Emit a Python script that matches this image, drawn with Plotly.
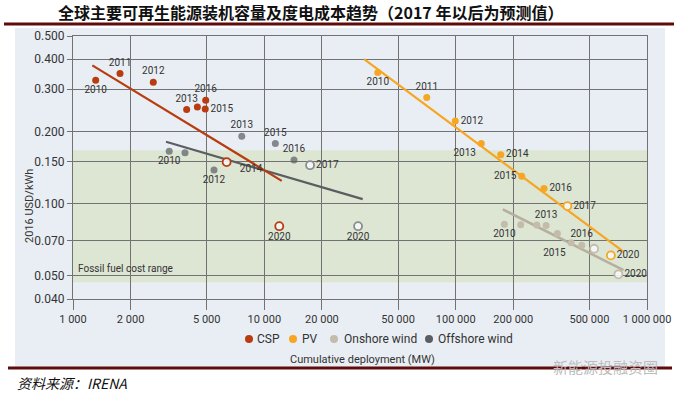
import math
import plotly.graph_objects as go

# ---------------- data ----------------
csp_x = [1314, 1761, 2628, 3927, 4467, 4910, 4940]
csp_y = [0.327, 0.349, 0.321, 0.247, 0.253, 0.248, 0.270]
csp_lbl = ["2010", "2011", "2012", "2013", "", "2015", "2016"]
csp_proj_x = [6353, 11970]
csp_proj_y = [0.149, 0.0805]
csp_proj_lbl = ["", "2020"]
csp_trend_x = [1262, 12330]
csp_trend_y = [0.377, 0.1244]

off_x = [3184, 3850, 5457, 7622, 8521, 11417, 14290]
off_y = [0.1655, 0.163, 0.138, 0.191, 0.146, 0.178, 0.152]
off_lbl = ["2010", "", "2012", "2013", "2014", "2015", "2016"]
off_proj_x = [17340, 30900]
off_proj_y = [0.1446, 0.0805]
off_proj_lbl = ["2017", "2020"]
off_trend_x = [3062, 32660]
off_trend_y = [0.181, 0.1044]

pv_x = [39170, 70630, 99540, 136100, 172000, 221600, 289700]
pv_y = [0.352, 0.277, 0.221, 0.178, 0.160, 0.130, 0.1157]
pv_lbl = ["2010", "2011", "2012", "2013", "2014", "2015", "2016"]
pv_proj_x = [383600, 647400]
pv_proj_y = [0.0976, 0.0608]
pv_proj_lbl = ["2017", "2020"]
pv_trend_x = [33200, 753000]
pv_trend_y = [0.400, 0.063]

on_x = [179800, 218800, 265500, 296900, 340100, 401000, 456000]
on_y = [0.0821, 0.0816, 0.0815, 0.0810, 0.0750, 0.0687, 0.0670]
on_lbl = ["2010", "", "", "2013", "", "2015", "2016"]
on_proj_x = [529000, 708800]
on_proj_y = [0.0648, 0.0507]
on_proj_lbl = ["", "2020"]
on_trend_x = [176300, 753000]
on_trend_y = [0.0946, 0.0528]

fossil_range = [0.047, 0.167]

x_ticks = [1000, 2000, 5000, 10000, 20000, 50000, 100000, 200000, 500000, 1000000]
x_ticktext = ["1 000", "2 000", "5 000", "10 000", "20 000", "50 000",
              "100 000", "200 000", "500 000", "1 000 000"]
y_ticks = [0.04, 0.05, 0.07, 0.1, 0.15, 0.2, 0.3, 0.4, 0.5]
y_ticktext = ["0.040", "0.050", "0.070", "0.100", "0.150", "0.200", "0.300", "0.400", "0.500"]

series_names = ["CSP", "PV", "Onshore wind", "Offshore wind"]

# ---------------- style ----------------
FONT = "Liberation Sans Narrow, Arial Narrow, Roboto, sans-serif"
TXT = "#333333"
C_CSP = "#b83c10"
C_PV = "#f6a623"
C_ON = "#c3bcab"
C_ON_LINE = "#b7af9e"
C_OFF = "#5a5d61"
C_OFF_HOLLOW = "#8a8c8e"
GRID = "#727272"
PANEL = "#e9eef4"
BAND = "#dde5d3"
MAROON = "#5e0b0b"

W, H = 678, 396
ML, MR, MT, MB = 73, 31, 36, 97
PW, PH = W - ML - MR, H - MT - MB
YMIN, YMAX = 0.04, 0.5


def px_x(px):
    return (px - ML) / PW


def px_y(py):
    return (H - MB - py) / PH


def val_y(v):
    return (math.log10(v) - math.log10(YMIN)) / (math.log10(YMAX) - math.log10(YMIN))


fig = go.Figure()

# trend lines
for tx, ty, col, wd in [
    (on_trend_x, on_trend_y, C_ON_LINE, 2.5),
    (off_trend_x, off_trend_y, C_OFF, 2.2),
    (pv_trend_x, pv_trend_y, C_PV, 2.2),
    (csp_trend_x, csp_trend_y, C_CSP, 2.2),
]:
    fig.add_trace(go.Scatter(x=tx, y=ty, mode="lines", line=dict(color=col, width=wd),
                             showlegend=False, hoverinfo="skip"))

# historical points
pos_csp = ["bottom center", "top center", "top center", "top center", "top center", "middle right", "top center"]
pos_off = ["bottom center", "top center", "bottom center", "top center", "bottom center", "top center", "top center"]
pos_pv = ["bottom center", "top center", "middle right", "bottom left", "middle right", "middle left", "middle right"]
pos_on = ["bottom center", "top center", "top center", "top center", "top center", "bottom left", "top center"]

off_sizes = [7, 7, 7, 7, 0, 7, 7]

for xs, ys, lb, col, pos, size in [
    (on_x, on_y, on_lbl, C_ON, pos_on, 7),
    (off_x, off_y, off_lbl, C_OFF, pos_off, off_sizes),
    (pv_x, pv_y, pv_lbl, C_PV, pos_pv, 7),
    (csp_x, csp_y, csp_lbl, C_CSP, pos_csp, 7),
]:
    fig.add_trace(go.Scatter(
        x=xs, y=ys, mode="markers+text", text=lb, textposition=pos,
        textfont=dict(family=FONT, size=10, color=TXT),
        marker=dict(color=col, size=size, line=dict(width=0)),
        showlegend=False, cliponaxis=False))

# projections (hollow)
for xs, ys, lb, col, pos in [
    (on_proj_x, on_proj_y, on_proj_lbl, C_ON, ["middle right", "middle right"]),
    (off_proj_x, off_proj_y, off_proj_lbl, C_OFF_HOLLOW, ["middle right", "bottom center"]),
    (pv_proj_x, pv_proj_y, pv_proj_lbl, C_PV, ["middle right", "middle right"]),
    (csp_proj_x, csp_proj_y, csp_proj_lbl, C_CSP, ["middle right", "bottom center"]),
]:
    fig.add_trace(go.Scatter(
        x=xs, y=ys, mode="markers+text", text=lb, textposition=pos,
        textfont=dict(family=FONT, size=10, color=TXT),
        marker=dict(symbol="circle", color="rgba(245,247,250,0.9)", size=8,
                    line=dict(color=col, width=1.8)),
        showlegend=False, cliponaxis=False))

shapes = [
    # light panel behind the chart
    dict(type="rect", xref="paper", yref="paper", x0=px_x(15), x1=px_x(665),
         y0=px_y(367), y1=px_y(28), fillcolor=PANEL, line=dict(width=0), layer="below"),
    # fossil fuel cost band
    dict(type="rect", xref="paper", yref="paper", x0=0, x1=1,
         y0=val_y(fossil_range[0]), y1=val_y(fossil_range[1]),
         fillcolor=BAND, line=dict(width=0), layer="below"),
    # maroon rules
    dict(type="line", xref="paper", yref="paper", x0=px_x(4), x1=px_x(674),
         y0=px_y(24), y1=px_y(24), line=dict(color=MAROON, width=3), layer="above"),
    dict(type="line", xref="paper", yref="paper", x0=px_x(8), x1=px_x(672),
         y0=px_y(368), y1=px_y(368), line=dict(color=MAROON, width=3), layer="below"),
]

annotations = [
    dict(text="<b>全球主要可再生能源装机容量及度电成本趋势（2017 年以后为预测值）</b>",
         xref="paper", yref="paper", x=px_x(310), y=px_y(12), xanchor="center", yanchor="middle",
         showarrow=False, font=dict(family="Noto Sans CJK SC", size=16, color="#111111")),
    dict(text="Fossil fuel cost range", xref="paper", yref="paper", x=px_x(76), y=px_y(268),
         xanchor="left", yanchor="middle", showarrow=False,
         font=dict(family=FONT, size=10, color=TXT)),
    dict(text="Cumulative deployment (MW)", xref="paper", yref="paper", x=px_x(362), y=px_y(359),
         xanchor="center", yanchor="middle", showarrow=False,
         font=dict(family=FONT, size=11, color=TXT)),
    dict(text="2016 USD/kWh", xref="paper", yref="paper", x=px_x(29), y=px_y(206),
         xanchor="center", yanchor="middle", textangle=-90, showarrow=False,
         font=dict(family=FONT, size=11, color=TXT)),
    dict(text="<i>资料来源：IRENA</i>", xref="paper", yref="paper", x=px_x(15), y=px_y(383),
         xanchor="left", yanchor="middle", showarrow=False,
         font=dict(family="Noto Sans CJK SC", size=14, color="#111111")),
    dict(text="新能源投融资圈", xref="paper", yref="paper", x=px_x(660), y=px_y(366),
         xanchor="right", yanchor="middle", showarrow=False,
         font=dict(family="Noto Sans CJK SC", size=15, color="#bdbdbd")),
]

# manual legend (symbol + label)
legend_items = [(249, 255), (293, 300), (334, 342), (429, 436)]
legend_cols = [C_CSP, C_PV, C_ON, C_OFF]
for (cx, tx), col, name in zip(legend_items, legend_cols, series_names):
    shapes.append(dict(type="circle", xref="paper", yref="paper",
                       x0=px_x(cx - 4), x1=px_x(cx + 4), y0=px_y(343), y1=px_y(335),
                       fillcolor=col, line=dict(width=0)))
    annotations.append(dict(text=name, xref="paper", yref="paper", x=px_x(tx), y=px_y(339),
                            xanchor="left", yanchor="middle", showarrow=False,
                            font=dict(family=FONT, size=12, color=TXT)))

fig.update_layout(
    width=W, height=H,
    margin=dict(l=ML, r=MR, t=MT, b=MB, autoexpand=False),
    paper_bgcolor="white", plot_bgcolor="rgba(0,0,0,0)",
    showlegend=False,
    shapes=shapes, annotations=annotations,
    xaxis=dict(type="log", range=[math.log10(1000), math.log10(1000000)],
               tickvals=x_ticks, ticktext=x_ticktext,
               showgrid=True, gridcolor=GRID, gridwidth=1.3,
               showline=True, linecolor=GRID, linewidth=1.3, mirror=True,
               ticks="outside", ticklen=10, tickcolor=GRID, tickwidth=1.3,
               tickfont=dict(family=FONT, size=11, color=TXT), zeroline=False),
    yaxis=dict(type="log", range=[math.log10(YMIN), math.log10(YMAX)],
               tickvals=y_ticks, ticktext=y_ticktext,
               showgrid=True, gridcolor=GRID, gridwidth=1.3,
               showline=True, linecolor=GRID, linewidth=1.3, mirror=True,
               ticks="outside", ticklen=5, tickcolor=GRID, tickwidth=1.3,
               tickfont=dict(family=FONT, size=12, color=TXT), zeroline=False),
)

fig.write_html("out.html", config={"displayModeBar": False},
               post_script="document.body.style.margin='0';document.body.style.padding='0';")
